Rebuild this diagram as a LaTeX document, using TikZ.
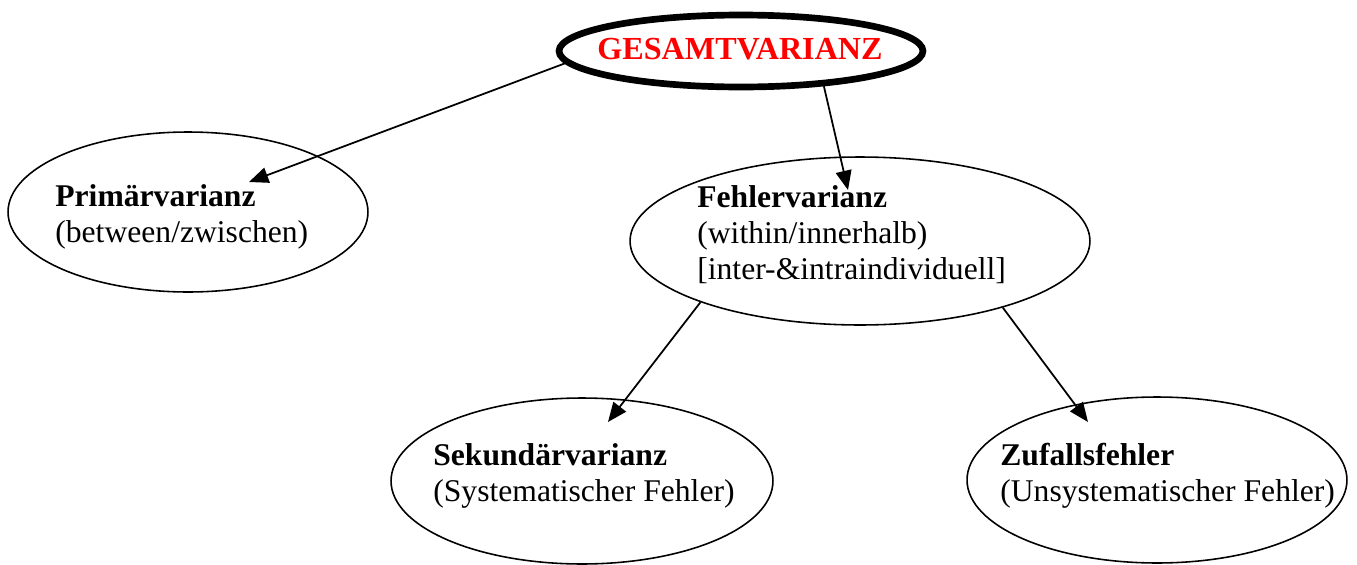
\documentclass[tikz,border=0pt]{standalone}
\usepackage{fontspec}
\setmainfont{Liberation Serif}
\usepackage{xcolor}
\usetikzlibrary{arrows.meta,shapes.geometric,calc}
\definecolor{gesred}{RGB}{255,0,0}

\begin{document}
\begin{tikzpicture}[x=0.02cm,y=-0.02cm,
  font=\fontsize{18}{20.5}\selectfont,
  oval/.style={draw, ellipse, line width=0.9pt, inner sep=0pt},
  txt/.style={align=left, inner sep=0pt, anchor=north west},
  pfeil/.style={line width=1pt, -{Triangle[length=11pt,width=9pt]}}]
  \useasboundingbox (0,0) rectangle (1357,565);
  % ellipses (centres in px, y downwards)
  \node[oval, line width=3.8pt, minimum width=7.28cm, minimum height=1.44cm] (ges) at (741,51) {};
  \node[oval, minimum width=7.2cm, minimum height=3.2cm] (prim) at (188,212) {};
  \node[oval, minimum width=9.2cm, minimum height=3.36cm] (fehl) at (860,241) {};
  \node[oval, minimum width=7.64cm, minimum height=3.32cm] (sek) at (582,481) {};
  \node[oval, minimum width=7.6cm, minimum height=3.32cm] (zuf) at (1157,480) {};
  % texts
  \node[text=gesred, inner sep=0pt, font=\fontsize{18.3}{20.5}\selectfont\bfseries] (gestxt) at (740,49) {GESAMTVARIANZ};
  \node[txt] (primtxt) at ($(prim.center)+(-133,-28)$) {\textbf{Primärvarianz}\\(between/zwischen)};
  \node[txt] (fehltxt) at ($(fehl.center)+(-163,-56)$) {\textbf{Fehlervarianz}\\(within/innerhalb)\\{}[inter-\&intraindividuell]};
  \node[txt] (sektxt) at ($(sek.center)+(-149,-38)$) {\textbf{Sekundärvarianz}\\(Systematischer Fehler)};
  \node[txt] (zuftxt) at ($(zuf.center)+(-157,-37)$) {\textbf{Zufallsfehler}\\(Unsystematischer Fehler)};
  % arrow tips end inside the ellipses
  \coordinate (primin) at ($(prim.center)+(61,-30)$);
  \coordinate (fehlin) at ($(fehl.center)+(-12,-51)$);
  \coordinate (sekin) at ($(sek.center)+(26,-59)$);
  \coordinate (zufin) at ($(zuf.center)+(-69,-58)$);
  \draw[pfeil] (ges.184) -- (primin);
  \draw[pfeil] (ges.337) -- (fehlin);
  \draw[pfeil] (fehl.201) -- (sekin);
  \draw[pfeil] (fehl.335) -- (zufin);
\end{tikzpicture}
\end{document}
